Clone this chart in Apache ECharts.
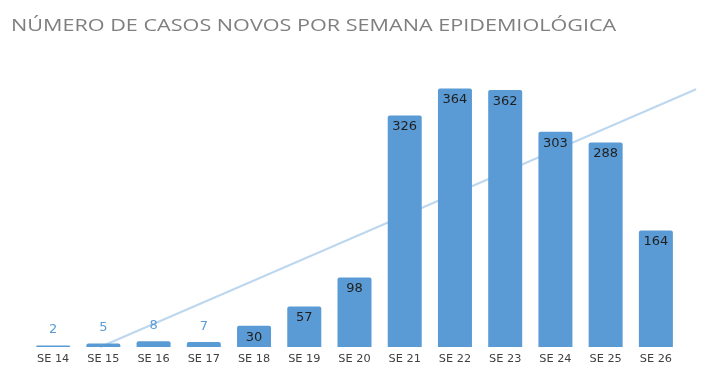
<!DOCTYPE html>
<html><head><meta charset="utf-8">
<script src="https://cdn.jsdelivr.net/npm/echarts@6/dist/echarts.min.js"></script>
<style>html,body{margin:0;padding:0;background:#fff}#c{width:712px;height:379px}</style>
</head><body><div id="c"></div>
<script>
const titleText = 'NÚMERO DE CASOS NOVOS POR SEMANA EPIDEMIOLÓGICA';
const categories = ['SE 14','SE 15','SE 16','SE 17','SE 18','SE 19','SE 20','SE 21','SE 22','SE 23','SE 24','SE 25','SE 26'];
const cases = [2, 5, 8, 7, 30, 57, 98, 326, 364, 362, 303, 288, 164];

// linear trendline (least squares) from the data, like the spreadsheet trendline
const n = cases.length;
const mx = (n - 1) / 2;
const my = cases.reduce((a, b) => a + b, 0) / n;
let sxy = 0, sxx = 0;
cases.forEach((v, i) => { sxy += (i - mx) * (v - my); sxx += (i - mx) * (i - mx); });
const slope = sxy / sxx;
const intercept = my - slope * mx;
const xStart = -intercept / slope;
const xEnd = n - 1 + 0.8;
const trend = [[xStart, 0], [xEnd, intercept + slope * xEnd]];

const W = 712, gl = 28, gr = 31;
const unit = (W - gl - gr) / n;
const trendRight = W - gl - (xEnd + 0.5) * unit;

const barData = cases.map(v => v < 20 ? {
  value: v,
  label: { position: 'top', distance: 9, color: '#5B9BD5' }
} : {
  value: v,
  label: { position: 'insideTop', distance: 5, color: '#1f1f1f' }
});

const chart = echarts.init(document.getElementById('c'), null, { renderer: 'canvas' });
chart.setOption({
  animation: false,
  backgroundColor: '#fff',
  graphic: [{
    type: 'text', x: 11, y: 26, scaleX: 1.35, silent: true,
    style: {
      text: titleText, font: '16px "Open Sans"', fill: '#7f7f7f',
      textAlign: 'left', textVerticalAlign: 'middle'
    }
  }],
  grid: [
    { left: gl, right: gr, top: 63, bottom: 32 },
    { left: gl, right: trendRight, top: 63, bottom: 32 }
  ],
  xAxis: [{
    type: 'category', data: categories, gridIndex: 0,
    axisLine: { show: false }, axisTick: { show: false },
    axisLabel: { margin: 7, color: '#404040', fontFamily: 'DejaVu Sans', fontSize: 11.3 }
  }, {
    type: 'value', gridIndex: 1, min: -0.5, max: xEnd, show: false
  }],
  yAxis: [
    { type: 'value', gridIndex: 0, min: 0, max: 400, show: false },
    { type: 'value', gridIndex: 1, min: 0, max: 400, show: false }
  ],
  series: [{
    type: 'line', xAxisIndex: 1, yAxisIndex: 1, data: trend, symbol: 'none', z: 1,
    lineStyle: { color: '#BDD7EE', width: 2 }
  }, {
    type: 'bar', xAxisIndex: 0, yAxisIndex: 0, data: barData, barWidth: 34, z: 2,
    itemStyle: { color: '#5B9BD5', borderRadius: [2, 2, 0, 0] },
    label: { show: true, fontFamily: 'DejaVu Sans', fontSize: 13 }
  }]
});
</script></body></html>
